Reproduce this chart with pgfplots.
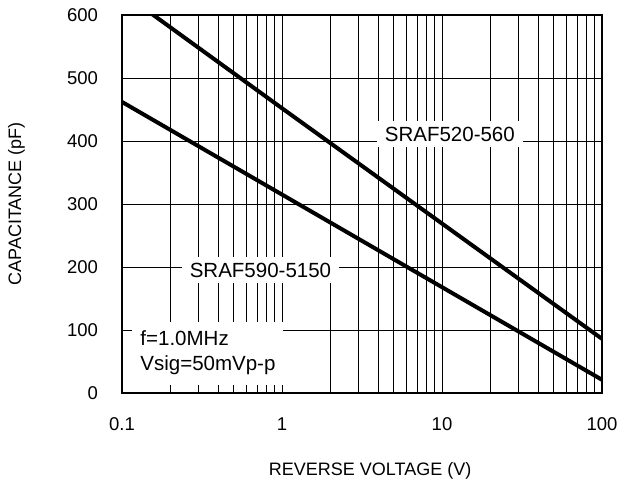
\documentclass[border=0pt]{standalone}
\usepackage{fontspec}
\setmainfont{Liberation Sans}
\usepackage{pgfplots}
\pgfplotsset{compat=1.18}
\usetikzlibrary{calc}

\begin{document}
\begin{tikzpicture}
\begin{axis}[
  xmode=log,
  width=240bp, height=189bp, scale only axis,
  xmin=0.1, xmax=100, ymin=0, ymax=600,
  xtick={0.1,1,10,100}, xticklabels={0.1,1,10,100},
  ytick={0,100,...,600},
  grid=both,
  major grid style={black, line width=0.5bp},
  minor grid style={black, line width=0.5bp},
  major tick length=0pt, minor tick length=0pt,
  axis line style={black, line width=0.6bp},
  /pgf/number format/assume math mode=true,
  tick label style={font=\fontsize{9.25bp}{11bp}\selectfont},
  xticklabel style={yshift=-9bp},
  yticklabel style={xshift=-8.5bp},
  label style={font=\fontsize{9bp}{11bp}\selectfont},
  xlabel={REVERSE VOLTAGE (V)},
  ylabel={CAPACITANCE (pF)},
  xlabel style={at={(axis description cs:0.517,0)}, anchor=north, yshift=-31bp},
  ylabel style={at={(axis description cs:0,0.5)}, anchor=south, yshift=45bp},
  clip=true,
]
\addplot[black, line width=2bp] coordinates {(0.1,636) (1,452) (10,269) (100,86)};
\addplot[black, line width=2bp] coordinates {(0.1,462) (1,315) (10,168) (100,21)};
\node[fill=white, inner xsep=4bp, inner ysep=3bp, font=\fontsize{10.25bp}{12bp}\selectfont]
  at (rel axis cs:0.683,0.685) {SRAF520-560};
\node[fill=white, inner xsep=4bp, inner ysep=3bp, font=\fontsize{10.25bp}{12bp}\selectfont]
  at (rel axis cs:0.2885,0.325) {SRAF590-5150};
\node[fill=white, anchor=south west, align=left, inner xsep=2.5bp, inner ysep=3bp,
  minimum width=75.5bp, minimum height=31.5bp, font=\fontsize{10.25bp}{12.5bp}\selectfont]
  at (rel axis cs:0.021,0.021) {f=1.0MHz\\Vsig=50mVp-p};
\coordinate (sw) at (rel axis cs:0,0);
\coordinate (ne) at (rel axis cs:1,1);
\end{axis}
\pgfresetboundingbox
\path[use as bounding box] ($(sw)+(-61bp,-44.5bp)$) rectangle ($(ne)+(14.5bp,7.5bp)$);
\end{tikzpicture}
\end{document}
